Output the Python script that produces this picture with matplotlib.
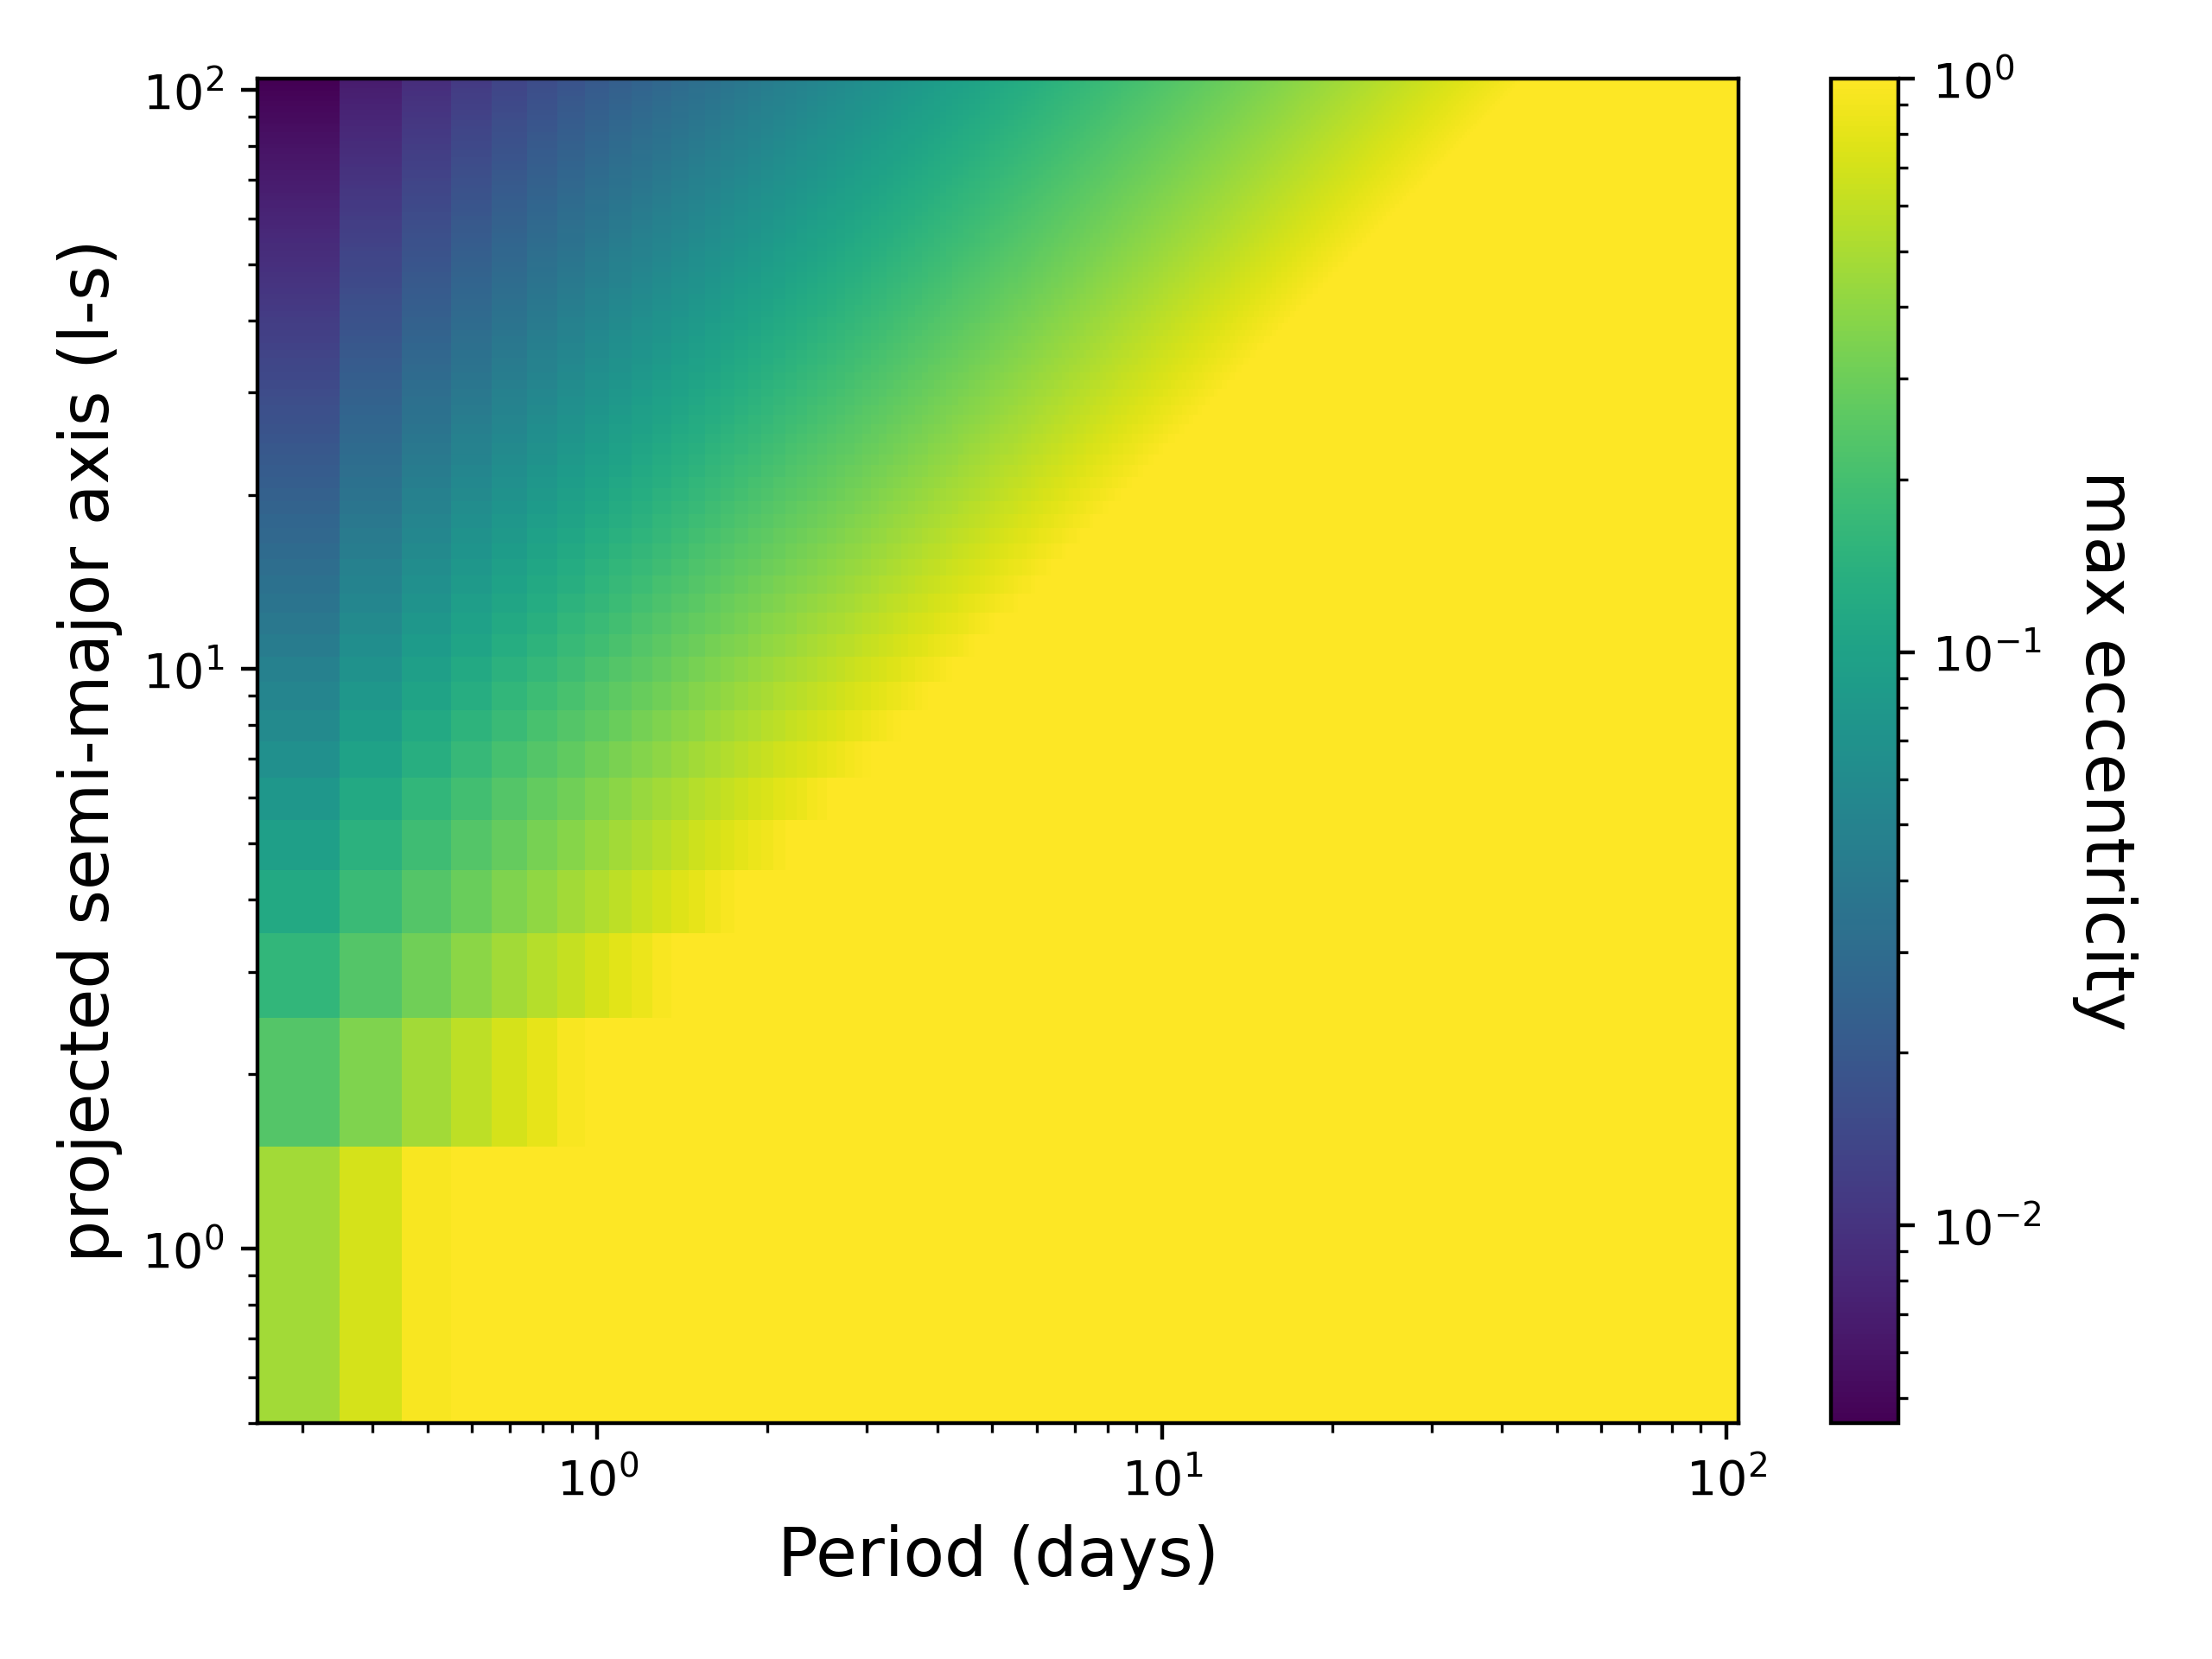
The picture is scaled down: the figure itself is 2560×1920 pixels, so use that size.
import numpy as np
import matplotlib
matplotlib.use("Agg")
import matplotlib.pyplot as plt
from matplotlib.colors import LogNorm

# grid of the map (cell centres, linear spacing as read from the cell edges)
period_days = np.arange(0.3, 105.0, 0.1)
asini_ls = np.arange(1.0, 105.0, 1.0)

# max eccentricity: grows linearly with period,
# falls as 1/asini, saturates at 1 (readings: e~0.46 at P=0.3,a=1;
# e~0.0046 at P=0.3,a=104; e reaches ~1 near P~40 at a=104)
ecc_slope = 2.35
ecc_period_offset = 0.1

P, A = np.meshgrid(period_days, asini_ls)
max_ecc = np.minimum(1.0, ecc_slope * (P - ecc_period_offset) / A)

fig = plt.figure(figsize=(6.4, 4.8), dpi=400)
ax = fig.add_axes([298 / 2560, 1 - 1647 / 1920, (2012 - 298) / 2560, (1647 - 91) / 1920])
cax = fig.add_axes([2119 / 2560, 1 - 1647 / 1920, (2197 - 2119) / 2560, (1647 - 91) / 1920])

mesh = ax.pcolormesh(period_days, asini_ls, max_ecc, shading="nearest",
                     cmap="viridis", norm=LogNorm(vmin=max_ecc.min(), vmax=1.0))
ax.set_xscale("log")
ax.set_yscale("log")
ax.set_xlabel("Period (days)", fontsize=14)
ax.set_ylabel("projected semi-major axis (l-s)", fontsize=14)

cb = fig.colorbar(mesh, cax=cax)
cb.set_label("max eccentricity", fontsize=14, rotation=270, labelpad=20)

fig.savefig("out.png", dpi=400)
